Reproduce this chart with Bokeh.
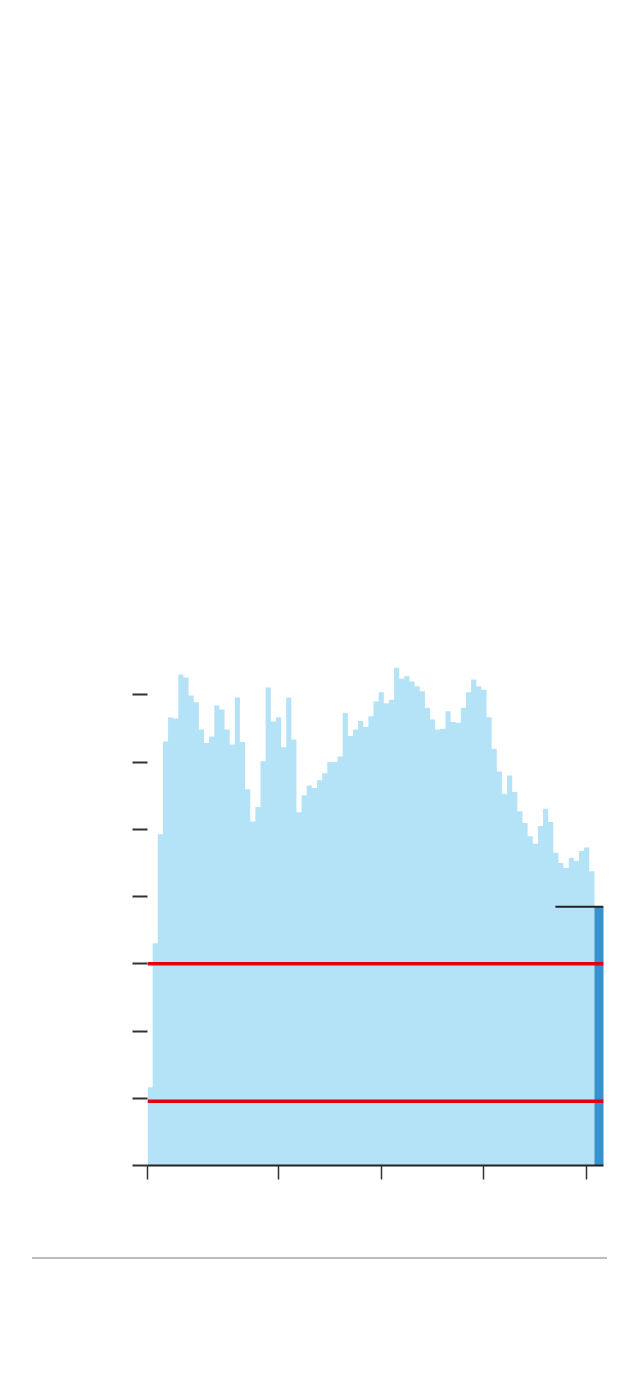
from bokeh.plotting import figure
from bokeh.models import Range1d, FixedTicker, Span, CustomJSTickFormatter, Div, ColumnDataSource
from bokeh.layouts import column
from bokeh.embed import file_html
from bokeh.resources import INLINE

# ---- data ----
history_values = [
    1.165, 3.305, 4.924, 6.306, 6.663, 6.648, 7.302, 7.257, 6.990, 6.890,
    6.484, 6.281, 6.380, 6.841, 6.782, 6.484, 6.262, 6.960, 6.296, 5.593,
    5.117, 5.330, 6.013, 7.108, 6.603, 6.667, 6.221, 6.960, 6.336, 5.251,
    5.504, 5.652, 5.612, 5.727, 5.831, 5.999, 5.999, 6.083, 6.727, 6.385,
    6.484, 6.608, 6.519, 6.682, 6.900, 7.039, 6.875, 6.926, 7.401, 7.238,
    7.276, 7.198, 7.128, 7.053, 6.807, 6.633, 6.484, 6.495, 6.756, 6.593,
    6.584, 6.807, 7.039, 7.227, 7.128, 7.074, 6.667, 6.198, 5.860, 5.529,
    5.801, 5.553, 5.266, 5.092, 4.895, 4.786, 5.048, 5.306, 5.107, 4.652,
    4.498, 4.423, 4.578, 4.527, 4.676, 4.727, 4.374,
]
current_values = [3.844, 3.844]
reference_levels = [3.0, 0.957]
target_x = [79.4, 88.8]
target_level = 3.846
x_tick_positions = [0, 25.5, 45.5, 65.5, 85.5]
y_tick_positions = [0, 1, 2, 3, 4, 5, 6, 7]

LIGHT = "#b4e3f8"
DARK = "#3492cf"
RED = "#e3000f"
INK = "#222222"

n_hist = len(history_values)
n_cur = len(current_values)
hist_src = ColumnDataSource(dict(
    x=list(range(n_hist + 1)),
    y=history_values + [history_values[-1]],
))
cur_src = ColumnDataSource(dict(
    x=[n_hist + i for i in range(n_cur + 1)],
    y=current_values + [current_values[-1]],
))

p = figure(
    output_backend="svg", toolbar_location=None,
    frame_width=456, frame_height=538,
    min_border_left=147, min_border_right=12,
    min_border_top=627, min_border_bottom=40,
    x_range=Range1d(0, 88.77), y_range=Range1d(0, 8),
    background_fill_color="white", border_fill_color="white",
)
p.outline_line_color = None
p.xgrid.visible = False
p.ygrid.visible = False

p.varea_step(x="x", y1=0, y2="y", step_mode="after", source=hist_src,
             fill_color=LIGHT)
p.varea_step(x="x", y1=0, y2="y", step_mode="after", source=cur_src,
             fill_color=DARK)

for lvl in reference_levels:
    p.add_layout(Span(location=lvl, dimension="width", line_color=RED, line_width=3.5))

p.line(x=target_x, y=[target_level, target_level], line_color=INK, line_width=2)

empty = CustomJSTickFormatter(code="return ''")

xa = p.xaxis[0]
xa.ticker = FixedTicker(ticks=x_tick_positions)
xa.formatter = empty
xa.major_tick_in = 0
xa.major_tick_out = 14
xa.minor_tick_line_color = None
xa.major_tick_line_color = "#333333"
xa.major_tick_line_width = 1.5
xa.axis_line_color = INK
xa.axis_line_width = 2

ya = p.yaxis[0]
ya.ticker = FixedTicker(ticks=y_tick_positions)
ya.formatter = empty
ya.major_tick_in = 0
ya.major_tick_out = 15
ya.minor_tick_line_color = None
ya.major_tick_line_color = "#333333"
ya.major_tick_line_width = 2
ya.axis_line_color = None

rule = Div(text="", width=575, height=2, margin=(52, 0, 0, 32),
           styles={"border-top": "2px solid #bdbdbd"})

layout = column(p, rule)

open("out.html", "w").write(file_html(layout, INLINE))
